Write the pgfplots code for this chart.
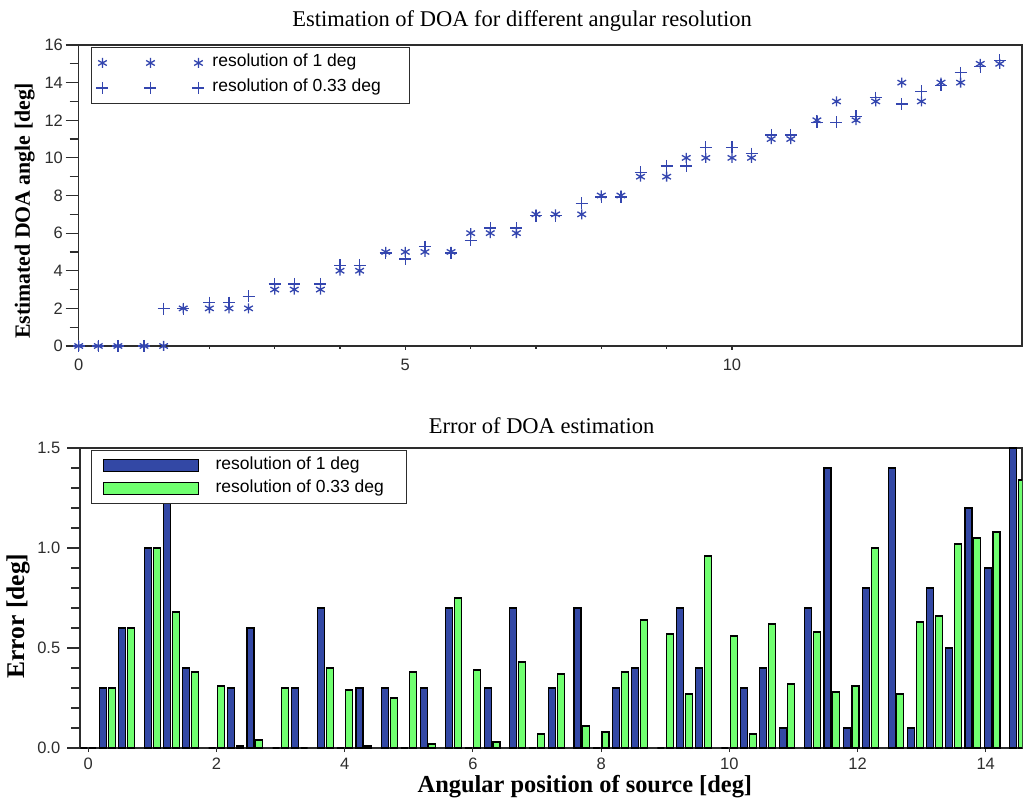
\documentclass[border=0pt]{standalone}
\usepackage{fontspec}
\setmainfont{Liberation Sans}
\newfontfamily\serif{Liberation Serif}
\usepackage{pgfplots}
\pgfplotsset{compat=1.18}
\definecolor{bblue}{RGB}{51,72,165}
\definecolor{bgreen}{RGB}{112,255,112}
\definecolor{mblue}{RGB}{52,70,175}
\definecolor{axgray}{RGB}{45,45,45}

\pgfplotstableread{
x e1 e033
0   0  0
0.3 0  0
0.6 0  0
1.0 0  0
1.3 0  1.98
1.6 2  1.98
2.0 2  2.31
2.3 2  2.31
2.6 2  2.64
3.0 3  3.30
3.3 3  3.30
3.7 3  3.30
4.0 4  4.29
4.3 4  4.29
4.7 5  4.95
5.0 5  4.62
5.3 5  5.28
5.7 5  4.95
6.0 6  5.61
6.3 6  6.27
6.7 6  6.27
7.0 7  6.93
7.3 7  6.93
7.7 7  7.59
8.0 8  7.92
8.3 8  7.92
8.6 9  9.24
9.0 9  9.57
9.3 10 9.57
9.6 10 10.56
10.0 10 10.56
10.3 10 10.23
10.6 11 11.22
10.9 11 11.22
11.3 12 11.88
11.6 13 11.88
11.9 12 12.21
12.2 13 13.20
12.6 14 12.87
12.9 13 13.53
13.2 14 13.86
13.5 14 14.52
13.8 15 14.85
14.1 15 15.18
14.5 16 15.84
}\esttable

\pgfplotstableread{
x err1 err033
0    0    0
0.3  0.30 0.30
0.6  0.60 0.60
1.0  1.00 1.00
1.3  1.30 0.68
1.6  0.40 0.38
2.0  0    0.31
2.3  0.30 0.01
2.6  0.60 0.04
3.0  0    0.30
3.3  0.30 0
3.7  0.70 0.40
4.0  0    0.29
4.3  0.30 0.01
4.7  0.30 0.25
5.0  0    0.38
5.3  0.30 0.02
5.7  0.70 0.75
6.0  0    0.39
6.3  0.30 0.03
6.7  0.70 0.43
7.0  0    0.07
7.3  0.30 0.37
7.7  0.70 0.11
8.0  0    0.08
8.3  0.30 0.38
8.6  0.40 0.64
9.0  0    0.57
9.3  0.70 0.27
9.6  0.40 0.96
10.0 0    0.56
10.3 0.30 0.07
10.6 0.40 0.62
10.9 0.10 0.32
11.3 0.70 0.58
11.6 1.40 0.28
11.9 0.10 0.31
12.2 0.80 1.00
12.6 1.40 0.27
12.9 0.10 0.63
13.2 0.80 0.66
13.5 0.50 1.02
13.8 1.20 1.05
14.1 0.90 1.08
14.5 1.50 1.34
}\errtable

\pgfplotsset{
  myax/.style={
    scale only axis,
    axis line style={axgray, line width=1.2pt},
    tick style={axgray, line width=1.2pt},
    tick align=outside,
    xtick pos=left, ytick pos=left,
    every major y tick/.append style={/pgfplots/major tick length=13pt},
    every minor y tick/.append style={/pgfplots/minor tick length=9pt},
    every major x tick/.append style={/pgfplots/major tick length=4pt},
    every minor x tick/.append style={/pgfplots/minor tick length=3pt},
    /pgf/number format/assume math mode=true,
    tick label style={font=\fontsize{16.5}{19}\selectfont, text=axgray},
    legend cell align=left,
  },
  threemarks/.style={legend image code/.code={\draw[##1, /tikz/only marks] plot coordinates {(0pt,0pt) (48pt,0pt) (96pt,0pt)};}},
  barleg/.style={legend image code/.code={\draw[##1] (0pt,-6pt) rectangle (95pt,6pt);}},
}

\begin{document}
\begin{tikzpicture}
\path (0pt,0pt) rectangle (1024pt,801pt);

\begin{axis}[myax,
  at={(78.7pt,455pt)}, anchor=south west, width=943.3pt, height=301pt,
  xmin=0, xmax=14.44, ymin=0, ymax=16,
  xtick={0,5,10}, minor x tick num=4,
  ytick={0,2,...,16}, minor y tick num=1,
  yticklabel style={xshift=-8pt},
  xticklabel style={yshift=-5pt},
  title={Estimation of DOA for different angular resolution},
  title style={at={(axis description cs:0.470,1.060)}, anchor=center, font=\serif\fontsize{22.5}{25}\selectfont},
  ylabel={Estimated DOA angle [deg]},
  ylabel style={at={(axis description cs:-0.0573,0.449)}, anchor=center, font=\serif\bfseries\fontsize{21.8}{24}\selectfont},
  legend style={at={(axis description cs:0.0130,0.9934)}, anchor=north west, draw=axgray, line width=1pt,
    font=\fontsize{17.5}{20}\selectfont, inner xsep=5pt, inner ysep=5.5pt, row sep=5pt, column sep=6pt,
    nodes={inner sep=2pt, text height=12pt, text depth=4pt}},
]
\addplot[only marks, mark=asterisk, color=mblue, mark size=5pt, mark options={line width=1.3pt}, threemarks]
  table[x=x, y=e1] {\esttable};
\addlegendentry{resolution of 1 deg}
\addplot[only marks, mark=+, color=mblue, mark size=6pt, mark options={line width=1.3pt}, threemarks]
  table[x=x, y=e033] {\esttable};
\addlegendentry{resolution of 0.33 deg\hspace*{22pt}}
\end{axis}

\begin{axis}[myax,
  at={(80pt,53pt)}, anchor=south west, width=942pt, height=300pt,
  xmin=-0.129, xmax=14.566, ymin=0, ymax=1.5,
  xtick={0,2,...,14},
  ytick={0,0.5,1,1.5}, minor y tick num=4,
  yticklabel style={xshift=-12pt, /pgf/number format/fixed, /pgf/number format/fixed zerofill, /pgf/number format/precision=1},
  xticklabel style={yshift=-2pt},
  title={Error of DOA estimation},
  title style={at={(axis description cs:0.490,1.054)}, anchor=center, font=\serif\fontsize{22.5}{25}\selectfont},
  xlabel={Angular position of source [deg]},
  xlabel style={at={(axis description cs:0.536,-0.130)}, anchor=center, font=\serif\bfseries\fontsize{24.4}{27}\selectfont},
  ylabel={Error [deg]},
  ylabel style={at={(axis description cs:-0.0658,0.44)}, anchor=center, font=\serif\bfseries\fontsize{25.5}{28}\selectfont},
  legend style={at={(axis description cs:0.0117,0.9933)}, anchor=north west, draw=axgray, line width=1pt,
    font=\fontsize{17.5}{20}\selectfont, inner xsep=11pt, inner ysep=5pt, row sep=3pt, column sep=15pt,
    nodes={inner sep=2pt, text height=12pt, text depth=4pt}},
]
\addplot[ybar, bar width=7pt, bar shift=-4.4pt, fill=bblue, draw=black, line width=1.1pt, barleg]
  table[x=x, y=err1] {\errtable};
\addlegendentry{resolution of 1 deg}
\addplot[ybar, bar width=7pt, bar shift=4.4pt, fill=bgreen, draw=black, line width=1.1pt, barleg]
  table[x=x, y=err033] {\errtable};
\addlegendentry{resolution of 0.33 deg\hspace*{10pt}}
\end{axis}
\end{tikzpicture}
\end{document}
